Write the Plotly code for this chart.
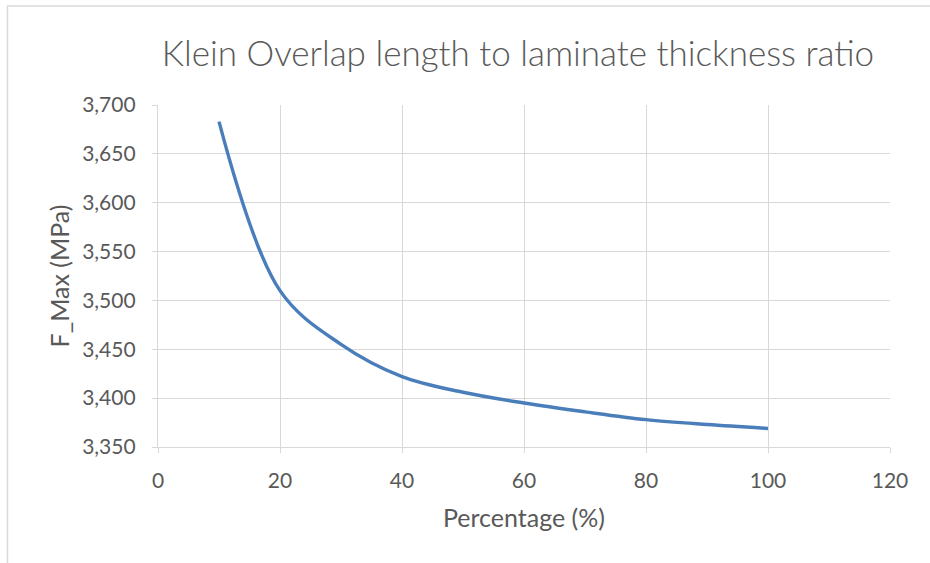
import plotly.graph_objects as go

percentage = [10, 20, 30, 40, 50, 60, 70, 80, 90, 100]
f_max = [3683, 3510, 3455, 3422, 3406, 3395, 3386, 3378, 3373, 3369]
x_ticks = [0, 20, 40, 60, 80, 100, 120]
y_ticks = [3350, 3400, 3450, 3500, 3550, 3600, 3650, 3700]
y_labels = ["3,350", "3,400", "3,450", "3,500", "3,550", "3,600", "3,650", "3,700"]

W, H = 930, 563
L, R, T, B = 158, 40, 105, 116
PW, PH = W - L - R, H - T - B

def px(x):
    return (x - L) / PW

def py(y):
    return (H - B - y) / PH

FONT = "Lato, Carlito, 'Liberation Sans', sans-serif"
TXT = "#595959"
GRID = "#d9d9d9"

fig = go.Figure()
fig.add_trace(go.Scatter(
    x=percentage, y=f_max, mode="lines",
    line=dict(color="#4a7ebb", width=3.4, shape="spline", smoothing=1.0),
    showlegend=False, hoverinfo="skip",
))

fig.update_layout(
    width=W, height=H,
    margin=dict(l=L, r=R, t=T, b=B),
    paper_bgcolor="white", plot_bgcolor="white",
    font=dict(family=FONT, color=TXT, size=21),
    title=dict(text="Klein Overlap length to laminate thickness ratio",
               x=px(518), xref="paper", xanchor="center",
               y=1 - 54 / H, yanchor="middle",
               font=dict(family=FONT, size=35, color=TXT, weight=300)),
    xaxis=dict(range=[0, 120], tickvals=x_ticks, ticktext=[str(v) for v in x_ticks],
               showgrid=True, gridcolor=GRID, gridwidth=1.3,
               showline=True, linecolor=GRID, linewidth=1.3,
               ticks="outside", ticklen=5, tickcolor=GRID, tickwidth=1.3,
               ticklabelstandoff=10, zeroline=False,
               tickfont=dict(family=FONT, size=21, color=TXT),
               title=dict(text="Percentage (%)", standoff=18,
                          font=dict(family=FONT, size=25, color=TXT))),
    yaxis=dict(range=[3350, 3700], tickvals=y_ticks, ticktext=y_labels,
               showgrid=True, gridcolor=GRID, gridwidth=1.3,
               showline=True, linecolor=GRID, linewidth=1.3,
               ticks="outside", ticklen=5, tickcolor=GRID, tickwidth=1.3,
               ticklabelstandoff=12, zeroline=False,
               tickfont=dict(family=FONT, size=21, color=TXT),
               title=dict(text="F_Max (MPa)", standoff=5,
                          font=dict(family=FONT, size=25, color=TXT))),
    shapes=[
        dict(type="line", xref="paper", yref="paper",
             x0=px(7), x1=px(W + 5), y0=py(6), y1=py(6),
             line=dict(color=GRID, width=1.5)),
        dict(type="line", xref="paper", yref="paper",
             x0=px(7.5), x1=px(7.5), y0=py(6), y1=py(H + 5),
             line=dict(color=GRID, width=1.5)),
    ],
)

fig.write_html("out.html")
